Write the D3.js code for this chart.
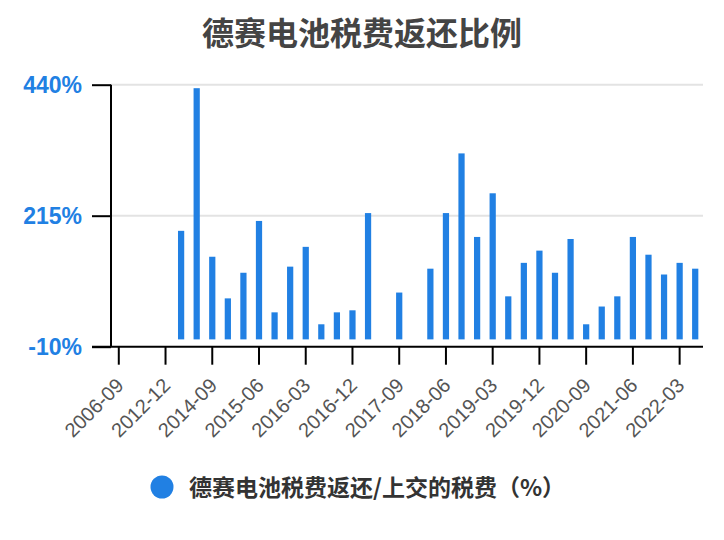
<!DOCTYPE html>
<html>
<head>
<meta charset="utf-8">
<script src="https://cdn.jsdelivr.net/npm/d3@7"></script>
<style>
  body { margin: 0; background: #fff; }
  svg { display: block; }
</style>
</head>
<body>
<script>
// report dates (quarter ends), only every 3rd gets a label
const dates = ["2006-09","2007-12","2012-06","2012-12","2013-12","2014-06",
  "2014-09","2014-12","2015-03","2015-06","2015-09","2015-12","2016-03","2016-06",
  "2016-09","2016-12","2017-03","2017-06","2017-09","2017-12","2018-03","2018-06",
  "2018-09","2018-12","2019-03","2019-06","2019-09","2019-12","2020-03","2020-06",
  "2020-09","2020-12","2021-03","2021-06","2021-09","2021-12","2022-03","2022-06"];
// 税费返还/上交的税费 (%), null = no value
const ratio = [null,null,null,null,189,434,
  144.5,73,117,206,49,127.5,161.5,28.5,
  49,52.5,219.5,null,83,null,124,219.5,
  322,178.5,253.5,76.5,134,155,117,175,
  28.5,59,76.5,178.5,148,114,134,124];
const yTicks = [-10, 215, 440];

const title = "德赛电池税费返还比例";
const seriesName = "德赛电池税费返还/上交的税费（%）";

const W = 724, H = 540;
const blue = "#2180e3";
const latin = "'Liberation Sans', Arial, 'Noto Sans CJK SC', sans-serif";
const cjk = "'Noto Sans CJK SC', 'Noto Sans', sans-serif";

const svg = d3.select("body").append("svg")
  .attr("width", W).attr("height", H);

let x = d3.scaleBand().domain(dates).range([111, 703])
  .paddingInner(0.6).paddingOuter(0.3);
let y = d3.scaleLinear().domain([-10, 440]).range([346.7, 84.7]);

// grid
svg.append("g").selectAll("line")
  .data(yTicks.filter(d => d > -10)).enter().append("line")
  .attr("x1", 111).attr("x2", 703)
  .attr("y1", d => y(d)).attr("y2", d => y(d))
  .attr("stroke", "#e3e3e3").attr("stroke-width", 2);

// bars
svg.append("g").selectAll("rect")
  .data(dates.map((d, i) => ({date: d, v: ratio[i]})).filter(d => d.v != null))
  .enter().append("rect")
  .attr("x", d => x(d.date))
  .attr("width", x.bandwidth())
  .attr("y", d => y(d.v))
  .attr("height", d => y(0) - y(d.v) - 1.5)
  .attr("fill", blue);

// y axis
let yAxis = d3.axisLeft(y).tickValues(yTicks).tickSize(19).tickPadding(10)
  .tickFormat(d => d + "%");
let gy = svg.append("g").attr("transform", "translate(111,0)").call(yAxis);
gy.select(".domain").attr("stroke", "#000").attr("stroke-width", 2)
  .attr("d", "M0," + y(440) + "V" + y(-10));
gy.selectAll(".tick line").attr("stroke", "#000").attr("stroke-width", 2);
gy.selectAll(".tick text")
  .attr("fill", blue).attr("font-family", latin)
  .attr("font-size", 23).attr("font-weight", "bold")
  .attr("dy", "0.36em");

// x axis
let xAxis = d3.axisBottom(x)
  .tickValues(dates.filter((d, i) => i % 3 == 0))
  .tickSize(18).tickSizeOuter(0);
let gx = svg.append("g").attr("transform", "translate(0," + y(-10) + ")").call(xAxis);
gx.select(".domain").attr("stroke", "#000").attr("stroke-width", 2)
  .attr("d", "M92,0H703");
gx.selectAll(".tick line").attr("stroke", "#000").attr("stroke-width", 2);
gx.selectAll(".tick text")
  .attr("fill", "#555").attr("font-family", latin).attr("font-size", 20)
  .attr("text-anchor", "end")
  .attr("x", 0).attr("y", 0).attr("dy", 0)
  .attr("transform", "translate(6,40) rotate(-45)");

// title
svg.append("text")
  .attr("x", 362).attr("y", 45)
  .attr("text-anchor", "middle")
  .attr("font-family", cjk).attr("font-size", 32).attr("font-weight", "bold")
  .attr("fill", "#444")
  .text(title);

// legend
let lg = svg.append("g");
lg.append("circle").attr("cx", 162).attr("cy", 487).attr("r", 11.5).attr("fill", blue);
lg.append("text")
  .attr("x", 189).attr("y", 496)
  .attr("font-family", cjk).attr("font-size", 23).attr("font-weight", "bold")
  .attr("fill", "#333")
  .text(seriesName);
</script>
</body>
</html>
